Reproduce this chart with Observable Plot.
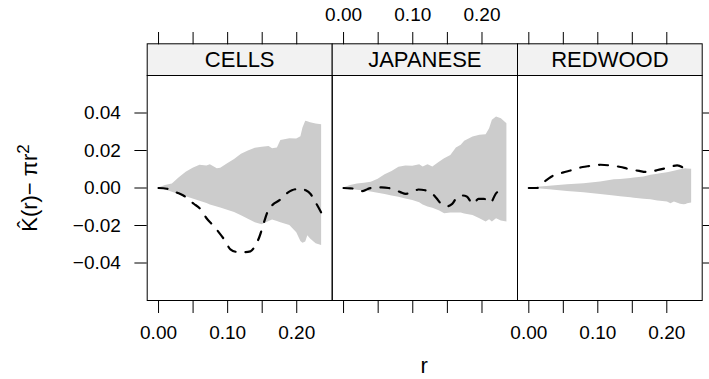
<!DOCTYPE html>
<html><head><meta charset="utf-8">
<script src="https://cdn.jsdelivr.net/npm/d3@7"></script>
<script src="https://cdn.jsdelivr.net/npm/@observablehq/plot@0.6"></script>
<style>
html,body{margin:0;padding:0;background:#fff;}
#chart{position:relative;width:709px;height:379px;overflow:hidden;background:#fff;font-family:"Liberation Sans",Arial,sans-serif;}
#chart svg{position:absolute;left:0;top:0;}
</style></head><body><div id="chart"></div>
<script>
const panels = ["CELLS", "JAPANESE", "REDWOOD"];
const xTicks = [0, 0.05, 0.1, 0.15, 0.2];
const xTickLabels = ["0.00", "", "0.10", "", "0.20"];
const yTicks = [-0.04, -0.02, 0, 0.02, 0.04];
const yTickLabels = ["\u22120.04", "\u22120.02", "0.00", "0.02", "0.04"];
const xTitle = "r";

// CELLS envelope
const cellsR  = [0,0.01,0.02,0.03,0.04,0.05,0.06,0.07,0.075,0.085,0.09,0.1,0.11,0.12,0.13,0.14,0.15,0.16,0.165,0.172,0.177,0.19,0.2,0.206,0.209,0.213,0.216,0.22,0.228,0.236];
const cellsHi = [0,0.0013,0.0022,0.0055,0.0084,0.0106,0.0121,0.0117,0.0124,0.0103,0.0106,0.013,0.0152,0.018,0.0198,0.0212,0.0217,0.0222,0.021,0.0213,0.0254,0.0263,0.0262,0.0274,0.032,0.0356,0.0353,0.0348,0.0342,0.0337];
const cellsLo = [0,-0.001,-0.0022,-0.0035,-0.0046,-0.0058,-0.0071,-0.0083,-0.009,-0.0101,-0.0107,-0.0119,-0.013,-0.0148,-0.0166,-0.0185,-0.0196,-0.0178,-0.017,-0.0178,-0.0185,-0.02,-0.0238,-0.0285,-0.0295,-0.0288,-0.0255,-0.0272,-0.0297,-0.0307];
// CELLS observed
const cellsLineR = [0,0.012,0.027,0.036,0.051,0.06,0.07,0.079,0.087,0.096,0.104,0.114,0.124,0.133,0.141,0.146,0.152,0.158,0.165,0.175,0.185,0.193,0.2,0.207,0.213,0.22,0.227,0.236];
const cellsLineK = [0,-0.0004,-0.0025,-0.004,-0.0084,-0.011,-0.0164,-0.02,-0.0235,-0.028,-0.0327,-0.0341,-0.0342,-0.0338,-0.03,-0.026,-0.019,-0.0125,-0.009,-0.0065,-0.003,-0.0012,-0.0006,-0.0006,-0.0012,-0.0032,-0.0075,-0.0135];

// JAPANESE envelope
const japR  = [0,0.01,0.02,0.03,0.04,0.05,0.06,0.07,0.08,0.09,0.1,0.11,0.115,0.122,0.129,0.139,0.146,0.155,0.163,0.17,0.175,0.187,0.197,0.206,0.211,0.215,0.221,0.228,0.236];
const japHi = [0,0.0014,0.0021,0.0025,0.0031,0.0047,0.0071,0.0088,0.0111,0.0117,0.0116,0.0124,0.0112,0.0124,0.0112,0.0139,0.0156,0.0174,0.0213,0.0228,0.0249,0.0272,0.0281,0.0284,0.0316,0.0361,0.0379,0.037,0.0343];
const japLo = [0,-0.0006,-0.0012,-0.0016,-0.0021,-0.0028,-0.0034,-0.0043,-0.0049,-0.0059,-0.0066,-0.0079,-0.009,-0.0101,-0.0108,-0.0122,-0.0137,-0.0133,-0.0133,-0.0133,-0.0138,-0.0146,-0.0164,-0.0181,-0.0169,-0.0181,-0.0164,-0.0176,-0.0181];
// JAPANESE observed
const japLineR = [0,0.01,0.02,0.027,0.035,0.045,0.055,0.065,0.075,0.082,0.09,0.1,0.108,0.118,0.127,0.134,0.142,0.15,0.157,0.165,0.172,0.178,0.187,0.195,0.203,0.212,0.22,0.228];
const japLineK = [0,-0.0002,-0.0006,-0.0017,-0.0005,0.0003,0.0003,0,-0.0012,-0.0022,-0.0031,-0.0022,-0.0008,-0.0012,-0.0026,-0.0053,-0.0088,-0.0097,-0.0085,-0.0045,-0.004,-0.0045,-0.0085,-0.0058,-0.0058,-0.0079,-0.003,-0.0008];

// REDWOOD envelope
const redR  = [0,0.03,0.056,0.08,0.104,0.124,0.133,0.148,0.153,0.167,0.177,0.187,0.191,0.201,0.206,0.211,0.22,0.225,0.228,0.23,0.236];
const redHi = [0,0.0009,0.0018,0.0023,0.0032,0.0044,0.0046,0.0051,0.0053,0.0059,0.0068,0.0074,0.0076,0.0082,0.0085,0.009,0.0098,0.0101,0.0103,0.0102,0.01];
const redLo = [0,-0.0009,-0.0018,-0.0025,-0.0034,-0.0043,-0.0046,-0.0052,-0.0054,-0.006,-0.0063,-0.0069,-0.0071,-0.0075,-0.0084,-0.0075,-0.0087,-0.0089,-0.0088,-0.0084,-0.008];
// REDWOOD observed
const redLineR = [0,0.012,0.025,0.032,0.049,0.061,0.078,0.087,0.104,0.116,0.133,0.143,0.16,0.172,0.189,0.201,0.215,0.222,0.228];
const redLineK = [0,0,0.0041,0.0059,0.0082,0.0094,0.0112,0.0117,0.0124,0.0121,0.0112,0.0103,0.0091,0.0085,0.0098,0.0108,0.0121,0.0112,0.0092];

const W = 709, H = 379;
const frameTop = 75, frameBottom = 300, stripH = 31.7;
const panelEdges = [146.7, 331.7, 517, 701.7];
const xDomain = [-0.0164, 0.2513];
const yDomain = [-0.06, 0.06];
const font = "'Liberation Sans', Arial, Helvetica, sans-serif";

const xFmtLabel = d => xTickLabels[xTicks.indexOf(d)] ?? "";
const yFmtLabel = d => yTickLabels[yTicks.indexOf(d)] ?? "";
const blank = () => "";

const envData = [
  {r: cellsR, lo: cellsLo, hi: cellsHi},
  {r: japR, lo: japLo, hi: japHi},
  {r: redR, lo: redLo, hi: redHi}
];
const lineData = [
  {r: cellsLineR, k: cellsLineK},
  {r: japLineR, k: japLineK},
  {r: redLineR, k: redLineK}
];
// which sides carry labels (lattice alternating)
const axesSpec = [
  {bottomLabels: true, topLabels: false, left: true, right: false},
  {bottomLabels: false, topLabels: true, left: false, right: false},
  {bottomLabels: true, topLabels: false, left: false, right: true}
];

const chart = document.getElementById("chart");

panels.forEach((name, p) => {
  const env = envData[p], ln = lineData[p], ax = axesSpec[p];
  const rows = env.r.map((r, i) => ({r, lo: env.lo[i], hi: env.hi[i]}));
  const lrows = ln.r.map((r, i) => ({r, k: ln.k[i]}));
  const marks = [
    Plot.frame({insetTop: -stripH, insetBottom: frameBottom - frameTop, fill: "#f2f2f2", stroke: "black", strokeWidth: 1}),
    Plot.text([name], {text: d => d, frameAnchor: "top", dy: -stripH / 2, lineAnchor: "middle", fontSize: 22, fill: "black", fontFamily: font}),
    Plot.areaY(rows, {x: "r", y1: "lo", y2: "hi", fill: "#cccccc"}),
    Plot.line(lrows, {x: "r", y: "k", stroke: "black", strokeWidth: 2.2, strokeDasharray: "9,10", curve: "monotone-x"}),
    Plot.frame({stroke: "black", strokeWidth: 1}),
    Plot.axisX(xTicks, {anchor: "bottom", tickSize: 13, tickPadding: 12, fontSize: 19, fontFamily: font,
      tickFormat: ax.bottomLabels ? xFmtLabel : blank, label: null, stroke: "black", fill: "black"}),
    Plot.axisX(xTicks, {anchor: "top", dy: -stripH, tickSize: 12.3, tickPadding: 11, fontSize: 19, fontFamily: font,
      tickFormat: ax.topLabels ? xFmtLabel : blank, label: null, stroke: "black", fill: "black"})
  ];
  if (ax.left) marks.push(Plot.axisY(yTicks, {anchor: "left", tickSize: 12.3, tickPadding: 14, fontSize: 19, fontFamily: font,
      tickFormat: yFmtLabel, label: null, stroke: "black", fill: "black"}));
  if (ax.right) marks.push(Plot.axisY(yTicks, {anchor: "right", tickSize: 12.3, tickFormat: blank, label: null, stroke: "black"}));

  const svg = Plot.plot({
    width: W, height: H,
    marginTop: frameTop, marginBottom: H - frameBottom,
    marginLeft: panelEdges[p], marginRight: W - panelEdges[p + 1],
    x: {domain: xDomain, axis: null},
    y: {domain: yDomain, axis: null},
    style: {background: "transparent", color: "black", fontFamily: font, overflow: "visible"},
    marks
  });
  chart.appendChild(svg);

  if (p === 0) {
    const s = d3.select(svg);
    const t = s.append("text")
      .attr("transform", "translate(37,188) rotate(-90)")
      .attr("text-anchor", "middle")
      .attr("font-size", 22)
      .attr("font-family", font)
      .attr("fill", "black");
    t.append("tspan").text("K\u0302(r)\u2212 \u03c0r");
    t.append("tspan").attr("dy", "-0.45em").attr("font-size", 17).text("2");
    s.append("text")
      .attr("x", (panelEdges[0] + panelEdges[3]) / 2)
      .attr("y", 373)
      .attr("text-anchor", "middle")
      .attr("font-size", 22)
      .attr("font-family", font)
      .attr("fill", "black")
      .text(xTitle);
  }
});
</script></body></html>
